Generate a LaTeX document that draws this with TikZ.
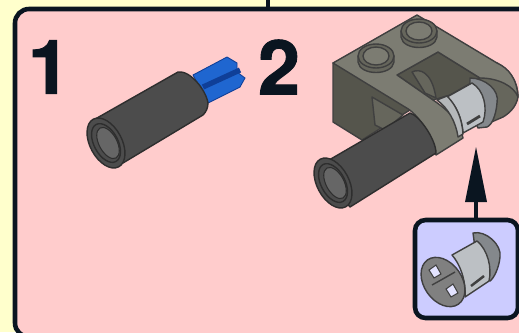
\documentclass[tikz,border=0pt]{standalone}
\usepackage{fontspec}
\setsansfont[BoldFeatures={FakeBold=1.2}]{TeX Gyre Heros}
\usetikzlibrary{arrows.meta,calc}

\definecolor{paper}{HTML}{FFFFCC}
\definecolor{panel}{HTML}{FFCCCC}
\definecolor{inset}{HTML}{CCCCFF}
\definecolor{ink}{HTML}{0A1520}
\definecolor{tube}{HTML}{4C4C4C}
\definecolor{tubedark}{HTML}{2E2E2E}
\definecolor{brick}{HTML}{66665C}
\definecolor{bricktop}{HTML}{7C7C72}
\definecolor{brickdark}{HTML}{55554C}
\definecolor{pinlight}{HTML}{BCC0C4}
\definecolor{pinedge}{HTML}{84888C}
\definecolor{axle}{HTML}{1F66D0}
\definecolor{axledark}{HTML}{0F3F98}

\tikzset{
  stepnum/.style={font=\sffamily\bfseries\fontsize{43}{43}\selectfont, text=ink, inner sep=0pt},
  part/.style={draw=black!75, line width=0.8pt, line join=round},
  tubepart/.style={fill=tube, draw=tubedark, line width=0.8pt, line join=round},
  frame/.style={draw=ink, line width=2.6pt}
}

\begin{document}
\begin{tikzpicture}[x=0.02cm,y=-0.02cm]

% --------------------
% Page and panels
% --------------------
\fill[paper] (0,0) rectangle (519,332);
\useasboundingbox (0,0) rectangle (519,332);
\draw[frame] (268,-5) -- (268,9);
\draw[frame,fill=panel,rounded corners=8pt] (15,9) rectangle (535,337);

\node[stepnum] (one) at (49,67) {1};
\node[stepnum] (two) at (279,67) {2};

% --------------------
% Tube with axle (step 1)
% --------------------
\fill[axle,draw=axledark,line width=0.5pt] (193,75) -- (227,57) -- (237,63) -- (237,72)
  -- (245,78) -- (240,87) -- (208,103) -- cycle;
\draw[axledark,line width=3pt] (203,87) -- (240,70);
\draw[tubepart] (97,118) -- (178,72) .. controls (190,70) and (206,90) .. (208,103)
  .. controls (208,108) and (206,112) .. (203,115) -- (123,163) -- cycle;
\draw[tubepart,rotate around={-62:(106,143)}] (106,143) ellipse[x radius=27,y radius=16];
\draw[tubepart,rotate around={-62:(106,143)}] (106,143) ellipse[x radius=21,y radius=12];
\fill[black!60,draw=tubedark,line width=0.6pt,rotate around={-62:(108,143)}] (108,143) ellipse[x radius=17,y radius=9];

% --------------------
% Brick with pin (step 2)
% --------------------
\filldraw[brickdark,part] (333,63) -- (333,122) -- (362,140) -- (410,110) -- (410,90) -- cycle;
\filldraw[brick,part] (372,97) -- (375,125) -- (385,130) -- (403,115) -- cycle;
\filldraw[brick,part] (470,80) -- (497,63) .. controls (510,70) and (518,82) .. (518,97)
  .. controls (516,108) and (508,114) .. (503,117) -- (480,127) -- (462,110) -- cycle;
\filldraw[brickdark,part] (397,75) -- (438,52) -- (480,78) -- (450,95) -- (433,100) -- cycle;
\filldraw[brick,part] (412,72) .. controls (420,68) and (432,72) .. (436,98) -- (425,93) -- cycle;
\filldraw[bricktop,part] (333,63) -- (417,15) -- (497,63) .. controls (508,68) and (517,78) .. (518,97)
  .. controls (514,86) and (498,78) .. (480,78) -- (438,52) -- (397,75) -- (433,100)
  .. controls (445,108) and (452,115) .. (457,123) .. controls (460,128) and (462,133) .. (463,138)
  -- (436,155) .. controls (430,135) and (420,115) .. (405,107) -- cycle;
\foreach \cx/\cy in {376/56,419/31}{
  \filldraw[brick,part] (\cx-18,\cy) -- (\cx-18,\cy+6) .. controls (\cx-16,\cy+20) and (\cx+16,\cy+20) .. (\cx+18,\cy+6) -- (\cx+18,\cy) -- cycle;
  \filldraw[brick,part] (\cx,\cy) ellipse[x radius=18,y radius=12];
  \filldraw[bricktop,part] (\cx,\cy) ellipse[x radius=13,y radius=9];
}
% pin in the brick
\filldraw[pinedge,part] (470,78) .. controls (485,78) and (500,90) .. (497,103) .. controls (496,115) and (492,125) .. (487,127)
  -- (478,128) -- (470,110) -- cycle;
\filldraw[pinlight,part] (447,97) -- (472,83) .. controls (484,90) and (488,108) .. (483,122) -- (463,133) .. controls (462,118) and (456,105) .. (447,97) -- cycle;
\draw[black!75,line width=1.6pt] (467,124) -- (480,116);
\filldraw[pinedge!60!white,part] (437,100) -- (447,96) .. controls (456,105) and (462,118) .. (463,134) -- (458,137) .. controls (456,122) and (448,108) .. (437,100) -- cycle;
% front tube
\draw[tubepart] (317,167) -- (410,113) .. controls (420,116) and (436,140) .. (436,153) -- (350,207) -- cycle;
\draw[tubepart,rotate around={-62:(333,183)}] (333,183) ellipse[x radius=27,y radius=16];
\draw[tubepart,rotate around={-62:(333,183)}] (333,183) ellipse[x radius=21,y radius=12];
\fill[black!60,draw=tubedark,line width=0.6pt,rotate around={-62:(335,183)}] (335,183) ellipse[x radius=17,y radius=9];

% --------------------
% Inset with loose pin
% --------------------
\coordinate (tip) at (476,147);
\node[frame,fill=inset,rounded corners=6pt,minimum width=2.06cm,minimum height=1.96cm,inner sep=0pt] (box) at (466.5,269) {};
\fill[ink] (tip) -- (487,202) -- (465,202) -- cycle;
\draw[frame] (tip |- 0,200) -- (tip |- box.north);

\filldraw[pinedge,part] (473,233) .. controls (486,230) and (502,245) .. (500,257)
  .. controls (499,268) and (494,278) .. (490,281) -- (478,270) -- cycle;
\filldraw[pinlight,part] (452,255) -- (477,241) .. controls (488,250) and (492,268) .. (489,281) -- (465,297) .. controls (466,280) and (460,264) .. (452,255) -- cycle;
\draw[black!75,line width=1.4pt] (471,286) -- (484,276);
\filldraw[black!50,part,rotate around={-55:(443,282)}] (443,282) ellipse[x radius=27,y radius=19];
\foreach \ax/\ay in {435/272,452/291}{
  \filldraw[inset!55!white,draw=black!75,line width=0.6pt] (\ax-6,\ay-2) -- (\ax+1,\ay-7) -- (\ax+6,\ay+2) -- (\ax-1,\ay+6) -- cycle;
}
\draw[black!75,line width=0.8pt] (432,285) -- (441,280) -- (455,272);

\end{tikzpicture}
\end{document}
